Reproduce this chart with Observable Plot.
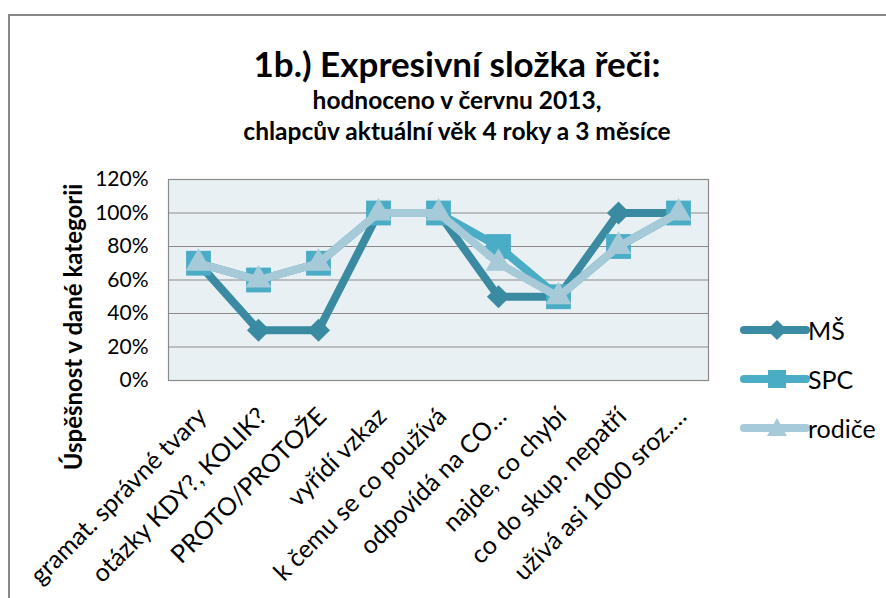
<!DOCTYPE html>
<html>
<head>
<meta charset="utf-8">
<script src="https://cdn.jsdelivr.net/npm/d3@7"></script>
<script src="https://cdn.jsdelivr.net/npm/@observablehq/plot@0.6"></script>
<style>
  html, body { margin: 0; padding: 0; background: #fff; }
  body { width: 886px; height: 598px; overflow: hidden; position: relative; font-family: Lato, "Open Sans", sans-serif; }
  #border { position: absolute; left: 8px; top: 14px; width: 900px; height: 600px; border-left: 2px solid #888; border-top: 2px solid #888; }
  .t { position: absolute; left: 0; width: 914px; text-align: center; font-weight: bold; color: #000; white-space: nowrap; line-height: 1; }
  #chart { position: absolute; left: 0; top: 0; }
  #legend { position: absolute; left: 740px; top: 0; }
  .lg { position: absolute; left: 0; display: flex; align-items: center; font-size: 25px; color: #000; }
  #ylabel { position: absolute; left: 72px; top: 327px; transform: translate(-50%, -50%) rotate(-90deg); font-weight: bold; font-size: 24px; white-space: nowrap; }
</style>
</head>
<body>
<div id="border"></div>
<div class="t" style="top:46px;font-size:35px;">1b.) Expresivní složka řeči:</div>
<div class="t" style="top:88px;font-size:24.5px;">hodnoceno v červnu 2013,</div>
<div class="t" style="top:119px;font-size:24.5px;">chlapcův aktuální věk 4 roky a 3 měsíce</div>
<div id="chart"></div>
<div id="ylabel">Úspěšnost v dané kategorii</div>
<div id="legend"></div>
<script>
const categories = ["gramat. správné tvary", "otázky KDY?, KOLIK?", "PROTO/PROTOŽE", "vyřídí vzkaz", "k čemu se co používá", "odpovídá na CO…", "najde, co chybí", "co do skup. nepatří", "užívá asi 1000 sroz.…"];
const seriesNames = ["MŠ", "SPC", "rodiče"];
const valuesMS = [0.7, 0.3, 0.3, 1.0, 1.0, 0.5, 0.5, 1.0, 1.0];
const valuesSPC = [0.7, 0.6, 0.7, 1.0, 1.0, 0.8, 0.5, 0.8, 1.0];
const valuesRodice = [0.7, 0.6, 0.7, 1.0, 1.0, 0.7, 0.5, 0.8, 1.0];
const yTicks = [0, 0.2, 0.4, 0.6, 0.8, 1.0, 1.2];
const gridTicks = [0.2, 0.4, 0.6, 0.8, 1.0];

const colors = {"MŠ": "#3a8ba2", "SPC": "#4bacc6", "rodiče": "#a6cad8"};
const symbols = {"MŠ": "diamond2", "SPC": "square", "rodiče": "triangle"};
const radii = {"MŠ": 10.4, "SPC": 14, "rodiče": 9.6};

const allValues = [valuesMS, valuesSPC, valuesRodice];
const data = seriesNames.flatMap((s, i) => categories.map((c, j) => ({series: s, category: c, value: allValues[i][j]})));

const marks = [
  Plot.frame({fill: "#e9f0f4", stroke: "none"}),
  Plot.ruleY(gridTicks, {stroke: "#8a8a8a", strokeWidth: 1.2}),
  Plot.frame({stroke: "#8a8a8a", strokeWidth: 1.2}),
  Plot.axisY({ticks: yTicks, tickFormat: d3.format(".0%"), tickSize: 0, tickPadding: 20, fontSize: 21, label: null}),
  Plot.text(categories, {x: d => d, frameAnchor: "bottom", rotate: -45, textAnchor: "end", lineAnchor: "top", dx: -3, dy: 25, fontSize: 25, fill: "#000"})
];
for (const s of seriesNames) {
  const d = data.filter(r => r.series === s);
  marks.push(Plot.line(d, {x: "category", y: "value", stroke: colors[s], strokeWidth: 8, strokeLinejoin: "round", strokeLinecap: "round"}));
  marks.push(Plot.dot(d, {x: "category", y: "value", symbol: symbols[s], r: radii[s], fill: colors[s], stroke: "none"}));
}

const chart = Plot.plot({
  width: 886, height: 598,
  marginLeft: 168, marginRight: 178, marginTop: 179, marginBottom: 218,
  style: {fontFamily: "Lato, 'Open Sans', sans-serif", fontSize: "20px", color: "#000", background: "transparent", overflow: "visible"},
  x: {type: "point", domain: categories, padding: 0.5, axis: null},
  y: {domain: [0, 1.2], axis: null},
  marks
});
document.getElementById("chart").appendChild(chart);

// legend
const legend = document.getElementById("legend");
const legendY = [330, 379, 428];
const sym = {
  "MŠ": '<path d="M37,-10 L47,0 L37,10 L27,0 Z"/>',
  "SPC": '<rect x="28" y="-9" width="18" height="18"/>',
  "rodiče": '<path d="M37,-10 L47,8 L27,8 Z"/>'
};
seriesNames.forEach((s, i) => {
  const row = document.createElement("div");
  row.className = "lg";
  row.style.top = (legendY[i] - 15) + "px";
  row.innerHTML = `<svg width="68" height="30" viewBox="0 -15 68 30" style="overflow:visible"><line x1="4" y1="0" x2="66" y2="0" stroke="${colors[s]}" stroke-width="8" stroke-linecap="round"/><g fill="${colors[s]}">${sym[s]}</g></svg><span>${s}</span>`;
  legend.appendChild(row);
});
</script>
</body>
</html>
